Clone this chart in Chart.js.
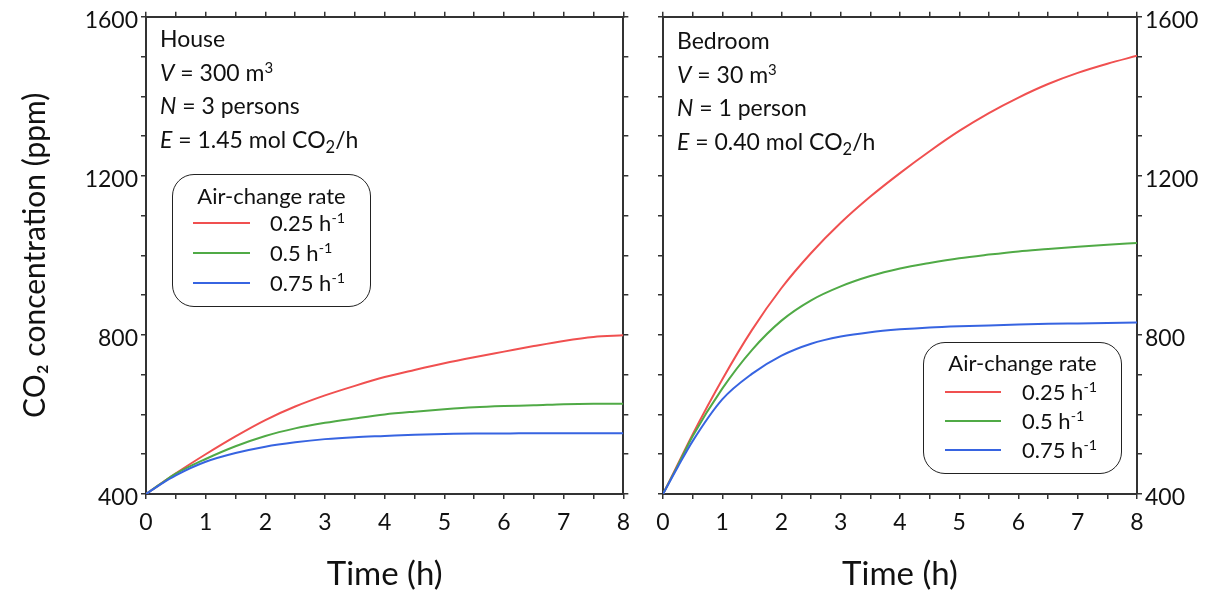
<!DOCTYPE html>
<html>
<head>
<meta charset="utf-8">
<script src="https://cdn.jsdelivr.net/npm/chart.js@4.4.1/dist/chart.umd.min.js"></script>
<style>
html,body{margin:0;padding:0;background:#fff;}
body{width:1213px;height:594px;position:relative;overflow:hidden;font-family:Lato,sans-serif;color:#111;}
canvas{position:absolute;top:0;}
#c1{left:0;}
#c2{left:640px;}
.note{position:absolute;font-size:23px;line-height:33.5px;white-space:nowrap;}
.note sub{font-size:0.72em;vertical-align:-0.3em;line-height:0;}
.note sup,.leg sup{font-size:0.65em;vertical-align:0.55em;line-height:0;}
.legbox{position:absolute;border:1.6px solid #222;border-radius:22px;box-sizing:border-box;}
.leg{position:absolute;font-size:22px;white-space:nowrap;line-height:26px;}
.legline{position:absolute;height:2px;}
</style>
</head>
<body>
<canvas id="c1" width="640" height="594"></canvas>
<canvas id="c2" width="573" height="594"></canvas>
<script>
// ---- data ----
const times      = [0, 0.25, 0.5, 1, 1.5, 2, 2.5, 3, 3.5, 4, 4.5, 5, 5.5, 6, 6.5, 7, 7.5, 8];
const houseR025  = [400, 426, 452, 500, 545, 586, 620, 648, 672, 694, 712, 729, 744, 758, 772, 785, 795, 799];
const houseR05   = [400, 426, 451, 488, 520, 546, 565, 579, 590, 600, 607, 613, 618, 621, 623, 626, 627, 627];
const houseR075  = [400, 425, 447, 481, 503, 519, 530, 538, 543, 546, 549, 551, 552, 552, 553, 553, 553, 553];
const bedR025    = [400, 475, 550, 688, 812, 918, 1006, 1082, 1148, 1207, 1262, 1313, 1358, 1397, 1431, 1459, 1482, 1502];
const bedR05     = [400, 472, 545, 665, 762, 836, 887, 922, 948, 967, 981, 993, 1002, 1010, 1016, 1022, 1027, 1031];
const bedR075    = [400, 468, 533, 638, 702, 748, 778, 796, 807, 814, 819, 822, 824, 826, 828, 829, 830, 831];
const rateLabels = ['0.25', '0.5', '0.75'];
const yTickLabels = [400, 800, 1200, 1600];
const xTickLabels = [0, 1, 2, 3, 4, 5, 6, 7, 8];
const houseNotes = ['House', '<i>V</i> = 300 m<sup>3</sup>', '<i>N</i> = 3 persons', '<i>E</i> = 1.45 mol CO<sub>2</sub>/h'];
const bedNotes   = ['Bedroom', '<i>V</i> = 30 m<sup>3</sup>', '<i>N</i> = 1 person', '<i>E</i> = 0.40 mol CO<sub>2</sub>/h'];
const legendTitle = 'Air-change rate';
const yTitle = 'CO₂ concentration (ppm)';
const xTitle = 'Time (h)';

// ---- styles ----
const colors = ['rgb(240,80,80)', 'rgb(80,170,70)', 'rgb(55,100,225)'];
const axisColor = '#333';
const FONT = 'Lato';

function makeDatasets(seriesList, axisId) {
  return seriesList.map((vals, i) => ({
    label: rateLabels[i] + ' h-1',
    data: times.map((t, k) => ({x: t, y: vals[k]})),
    borderColor: colors[i],
    backgroundColor: colors[i],
    borderWidth: 2,
    pointRadius: 0,
    fill: false,
    cubicInterpolationMode: 'monotone',
    yAxisID: axisId,
    order: 2 - i
  }));
}

function gridOpts() {
  return {drawOnChartArea: false, drawTicks: true, tickLength: 5, color: axisColor, lineWidth: 1.5};
}
function borderOpts() { return {display: true, color: axisColor, width: 2}; }

function xAxis(showLabels, position, size) {
  const ax = {
    type: 'linear', position: position, min: 0, max: 8,
    grid: gridOpts(), border: borderOpts(),
    ticks: {
      display: showLabels, stepSize: 0.5, autoSkip: false, maxRotation: 0,
      padding: 10, color: '#111', font: {family: FONT, size: 23},
      callback: v => xTickLabels.includes(v) ? String(v) : ''
    },
    afterFit: s => { s.height = size; }
  };
  if (showLabels) {
    ax.title = {display: true, text: xTitle, color: '#111', font: {family: FONT, size: 33}, padding: {top: 0, bottom: 0}};
  }
  return ax;
}
function yAxis(showLabels, position, size, withTitle) {
  const ax = {
    type: 'linear', position: position, min: 400, max: 1600,
    grid: gridOpts(), border: borderOpts(),
    ticks: {
      display: showLabels, stepSize: 100, autoSkip: false, padding: 3,
      labelOffset: 4,
      color: '#111', font: {family: FONT, size: 23},
      callback: v => yTickLabels.includes(v) ? String(v) : ''
    },
    afterFit: s => { s.width = size; }
  };
  if (withTitle) {
    ax.title = {display: true, text: yTitle, color: '#111', font: {family: FONT, size: 30}, padding: {top: 17, bottom: 0}};
  }
  return ax;
}

function baseOptions(scales, padding) {
  return {
    responsive: false, animation: false, devicePixelRatio: 1,
    layout: {padding: padding},
    plugins: {legend: {display: false}, tooltip: {enabled: false}},
    scales: scales
  };
}

new Chart(document.getElementById('c1'), {
  type: 'line',
  data: {datasets: makeDatasets([houseR025, houseR05, houseR075], 'y')},
  options: baseOptions({
    x: xAxis(true, 'bottom', 100),
    xTop: xAxis(false, 'top', 5),
    y: yAxis(true, 'left', 146, true),
    yRight: yAxis(false, 'right', 5, false)
  }, {top: 9, right: 9, left: 0, bottom: 0})
});

new Chart(document.getElementById('c2'), {
  type: 'line',
  data: {datasets: makeDatasets([bedR025, bedR05, bedR075], 'y')},
  options: baseOptions({
    x: xAxis(true, 'bottom', 100),
    xTop: xAxis(false, 'top', 5),
    yLeft: yAxis(false, 'left', 5, false),
    y: yAxis(true, 'right', 76, false)
  }, {top: 9, right: 0, left: 18, bottom: 0})
});

// ---- text overlays ----
function addNotes(lines, left, top) {
  const d = document.createElement('div');
  d.className = 'note';
  d.style.left = left + 'px';
  d.style.top = top + 'px';
  d.innerHTML = lines.map(l => '<div>' + l + '</div>').join('');
  document.body.appendChild(d);
}
addNotes(houseNotes, 160, 22);
addNotes(bedNotes, 677, 24);

function addLegend(box, titleY, rowYs, lineX1, lineX2, textX) {
  const b = document.createElement('div');
  b.className = 'legbox';
  b.style.left = box[0] + 'px'; b.style.top = box[1] + 'px';
  b.style.width = (box[2] - box[0]) + 'px'; b.style.height = (box[3] - box[1]) + 'px';
  document.body.appendChild(b);
  const t = document.createElement('div');
  t.className = 'leg';
  t.textContent = legendTitle;
  t.style.left = box[0] + 'px'; t.style.width = (box[2] - box[0]) + 'px';
  t.style.textAlign = 'center'; t.style.top = (titleY - 13) + 'px';
  document.body.appendChild(t);
  rateLabels.forEach((r, i) => {
    const ln = document.createElement('div');
    ln.className = 'legline';
    ln.style.background = colors[i];
    ln.style.left = lineX1 + 'px'; ln.style.width = (lineX2 - lineX1) + 'px';
    ln.style.top = (rowYs[i] - 1) + 'px';
    document.body.appendChild(ln);
    const tx = document.createElement('div');
    tx.className = 'leg';
    tx.innerHTML = r + ' h<sup>-1</sup>';
    tx.style.left = textX + 'px'; tx.style.top = (rowYs[i] - 13) + 'px';
    document.body.appendChild(tx);
  });
}
addLegend([172, 174, 371, 307], 196, [223, 253, 283], 193, 250, 270);
addLegend([923, 342, 1122, 474], 363, [392, 421, 450], 945, 1001, 1022);
</script>
</body>
</html>
